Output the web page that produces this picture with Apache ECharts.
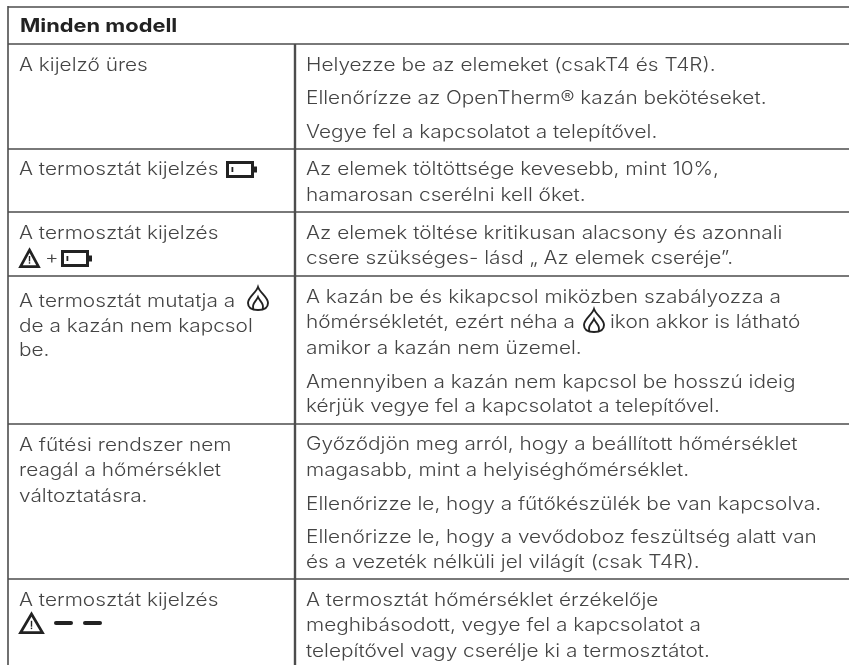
<!DOCTYPE html>
<html>
<head>
<meta charset="utf-8">
<style>html,body{margin:0;background:#fff}#main{width:849px;height:665px}</style>
<script src="https://cdn.jsdelivr.net/npm/echarts@6/dist/echarts.min.js"></script>
</head>
<body>
<div id="main"></div>
<script>
const headerText = "Minden modell";
const leftLines = [
	"A kijelző üres",
	"A termosztát kijelzés",
	"A termosztát kijelzés",
	"A termosztát mutatja a",
	"de a kazán nem kapcsol",
	"be.",
	"A fűtési rendszer nem",
	"reagál a hőmérséklet",
	"változtatásra.",
	"A termosztát kijelzés"
];
const rightLines = [
	"Helyezze be az elemeket (csakT4 és T4R).",
	"Ellenőrízze az OpenTherm® kazán bekötéseket.",
	"Vegye fel a kapcsolatot a telepítővel.",
	"Az elemek töltöttsége kevesebb, mint 10%,",
	"hamarosan cserélni kell őket.",
	"Az elemek töltése kritikusan alacsony és azonnali",
	"csere szükséges- lásd „ Az elemek cseréje”.",
	"A kazán be és kikapcsol miközben szabályozza a",
	"hőmérsékletét, ezért néha a",
	"amikor a kazán nem üzemel.",
	"Amennyiben a kazán nem kapcsol be hosszú ideig",
	"kérjük vegye fel a kapcsolatot a telepítővel.",
	"Győződjön meg arról, hogy a beállított hőmérséklet",
	"magasabb, mint a helyiséghőmérséklet.",
	"Ellenőrizze le, hogy a fűtőkészülék be van kapcsolva.",
	"Ellenőrizze le, hogy a vevődoboz feszültség alatt van",
	"és a vezeték nélküli jel világít (csak T4R).",
	"A termosztát hőmérséklet érzékelője",
	"meghibásodott, vegye fel a kapcsolatot a",
	"telepítővel vagy cserélje ki a termosztátot."
];
const inlineAfterFlame = "ikon akkor is látható";
const plusSign = "+";

// layout
const leftY = [65, 169, 233, 301, 326, 350, 445, 470, 496, 600];
const rightY = [65, 98, 132, 169, 195, 233, 258, 297, 322, 348, 382, 406, 444, 470, 504, 537, 562, 600, 625, 651];
const rowEdges = [7, 44, 149, 212, 276, 424, 579];

const FONT = "Inter";
const TEXT_COLOR = "#444";
const LINE_COLOR = "#4d4d4d";
const ICON_COLOR = "#222";
const TEXT_STRETCH = 1.156;
const TEXT_DROP = 1;

// graphic has no plain path type, so the flame gets its own shape
echarts.graphic.registerShape("flame", echarts.graphic.extendShape({
	shape: { x: 0, y: 0 },
	buildPath(ctx, shape) {
		const x = shape.x, y = shape.y;
		ctx.moveTo(x + 10, y);
		ctx.bezierCurveTo(x + 12, y + 6, x + 20, y + 10, x + 20, y + 16);
		ctx.bezierCurveTo(x + 20, y + 21, x + 16, y + 23, x + 10, y + 23);
		ctx.bezierCurveTo(x + 4, y + 23, x, y + 21, x, y + 16);
		ctx.bezierCurveTo(x, y + 10, x + 8, y + 6, x + 10, y);
		ctx.closePath();
		ctx.moveTo(x + 5.5, y + 22);
		ctx.bezierCurveTo(x + 3, y + 17, x + 8, y + 15, x + 10, y + 10);
		ctx.bezierCurveTo(x + 12, y + 15, x + 17, y + 17, x + 14.5, y + 22);
	}
}));

const text = (x, y, str, extra, stretch) => ({
	type: "text",
	x: x,
	y: y + TEXT_DROP,
	scaleX: stretch || TEXT_STRETCH,
	silent: true,
	style: Object.assign({
		text: str,
		fontFamily: FONT,
		fontSize: 18,
		fontWeight: 300,
		fill: TEXT_COLOR,
		textVerticalAlign: "middle"
	}, extra)
});
const hLine = (x1, x2, y, w) => ({
	type: "line",
	shape: { x1: x1, y1: y, x2: x2, y2: y },
	style: { stroke: LINE_COLOR, lineWidth: w }
});
const vLine = (x, y1, y2, w) => ({
	type: "line",
	shape: { x1: x, y1: y1, x2: x, y2: y2 },
	style: { stroke: LINE_COLOR, lineWidth: w }
});
const battery = (x, y) => ({
	type: "group",
	x: x,
	y: y,
	children: [
		{ type: "rect", shape: { x: 1.5, y: 1.5, width: 25, height: 14 }, style: { fill: "#fff", stroke: ICON_COLOR, lineWidth: 3 } },
		{ type: "rect", shape: { x: 28, y: 5.5, width: 3, height: 6 }, style: { fill: ICON_COLOR } },
		{ type: "rect", shape: { x: 5.5, y: 6, width: 1.8, height: 5 }, style: { fill: ICON_COLOR } }
	]
});
const warning = (x, y, w, h) => ({
	type: "group",
	x: x,
	y: y,
	children: [
		{ type: "polygon", shape: { points: [[w / 2, 2], [w - 1.5, h - 1.3], [1.5, h - 1.3]] }, style: { fill: "#fff", stroke: ICON_COLOR, lineWidth: 2.7, lineJoin: "miter" } },
		{ type: "rect", shape: { x: w / 2 - 0.7, y: h * 0.4, width: 1.4, height: h * 0.27 }, style: { fill: ICON_COLOR } },
		{ type: "rect", shape: { x: w / 2 - 0.7, y: h * 0.71, width: 1.4, height: 1.5 }, style: { fill: ICON_COLOR } }
	]
});
const flame = (x, y) => ({
	type: "flame",
	shape: { x: x, y: y },
	style: { fill: null, stroke: ICON_COLOR, lineWidth: 1.9 }
});
const dash = (x, y) => ({
	type: "rect",
	shape: { x: x, y: y, width: 19, height: 4, r: 2 },
	style: { fill: ICON_COLOR }
});

const elements = [];
rowEdges.forEach((y, i) => elements.push(hLine(8, 849, y, i === 0 || i === 1 || i === 5 ? 1.6 : 1.4)));
elements.push(vLine(8, 6, 665, 1.6));
elements.push(vLine(295, 44, 665, 2.4));
elements.push(text(20, 25.5, headerText, { fontWeight: "bold", fontSize: 18.5, fill: "#222" }, 1.18));
leftLines.forEach((s, i) => elements.push(text(19, leftY[i], s)));
rightLines.forEach((s, i) => elements.push(text(306, rightY[i], s)));
elements.push(text(610, rightY[8], inlineAfterFlame));
elements.push(text(45, 258, plusSign, { fontSize: 18 }));
elements.push(battery(226, 161));
elements.push(battery(61, 250));
elements.push(warning(19, 248, 21, 20));
elements.push(warning(19, 612, 25, 22));
elements.push(flame(248, 287));
elements.push(flame(584, 309));
elements.push(dash(54, 621));
elements.push(dash(83, 621));

const chart = echarts.init(document.getElementById("main"));
chart.setOption({
	animation: false,
	backgroundColor: "#fff",
	graphic: { elements: elements }
});
</script>
</body>
</html>
